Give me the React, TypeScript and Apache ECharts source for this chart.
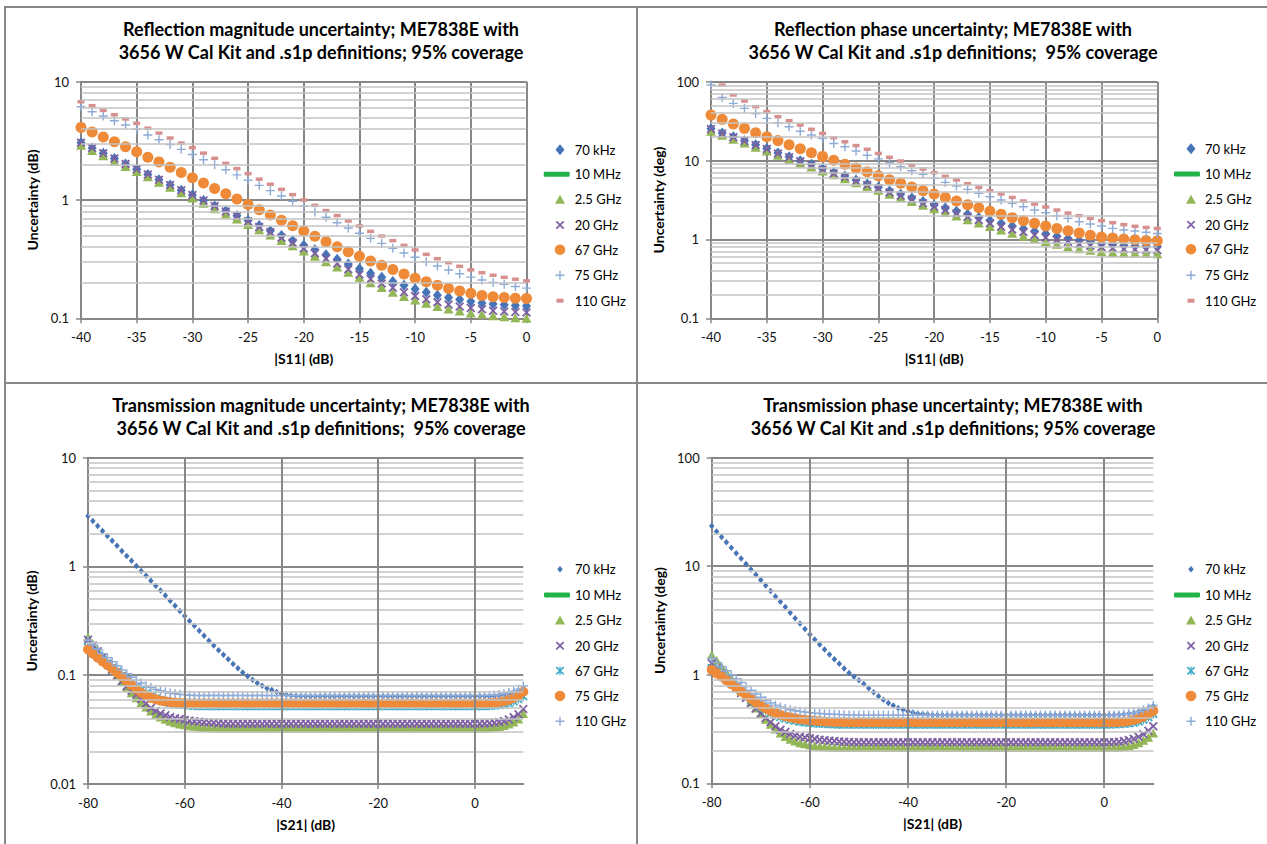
import React, { useEffect, useRef } from "react";
import * as echarts from "echarts";

const FONT = "Lato, 'Open Sans', 'DejaVu Sans', sans-serif";

// ---------- x values ----------
const s11Db = [-40, -39, -38, -37, -36, -35, -34, -33, -32, -31, -30, -29, -28, -27, -26, -25, -24, -23, -22, -21, -20,
  -19, -18, -17, -16, -15, -14, -13, -12, -11, -10, -9, -8, -7, -6, -5, -4, -3, -2, -1, 0];
const s21Db = [-80, -79, -78, -77, -76, -75, -74, -73, -72, -71, -70, -69, -68, -67, -66, -65, -64, -63, -62, -61,
  -60, -59, -58, -57, -56, -55, -54, -53, -52, -51, -50, -49, -48, -47, -46, -45, -44, -43, -42, -41,
  -40, -39, -38, -37, -36, -35, -34, -33, -32, -31, -30, -29, -28, -27, -26, -25, -24, -23, -22, -21,
  -20, -19, -18, -17, -16, -15, -14, -13, -12, -11, -10, -9, -8, -7, -6, -5, -4, -3, -2, -1,
  0, 1, 2, 3, 4, 5, 6, 7, 8, 9, 10];

const seriesNames = ["70 kHz", "10 MHz", "2.5 GHz", "20 GHz", "67 GHz", "75 GHz", "110 GHz"];
const mhz10: number[] = []; // legend-only series (no visible points)

// ---------- Reflection magnitude (dB) ----------
const rm70k = [3.05, 2.75, 2.48, 2.24, 2.02, 1.82, 1.64, 1.48, 1.34, 1.21,
  1.10, 0.99, 0.89, 0.81, 0.735, 0.67, 0.61, 0.55, 0.50, 0.455,
  0.415, 0.38, 0.345, 0.315, 0.288, 0.262, 0.24, 0.222, 0.205, 0.19,
  0.177, 0.166, 0.157, 0.15, 0.144, 0.139, 0.135, 0.132, 0.13, 0.128, 0.127];
const rm2g5 = [2.9, 2.62, 2.37, 2.13, 1.92, 1.74, 1.57, 1.41, 1.28, 1.15,
  1.04, 0.94, 0.845, 0.76, 0.69, 0.62, 0.56, 0.505, 0.455, 0.41,
  0.37, 0.335, 0.30, 0.272, 0.245, 0.222, 0.2, 0.182, 0.166, 0.153,
  0.143, 0.134, 0.126, 0.12, 0.115, 0.111, 0.108, 0.105, 0.103, 0.101, 0.1];
const rm20g = [3.05, 2.75, 2.48, 2.24, 2.02, 1.82, 1.64, 1.48, 1.34, 1.21,
  1.10, 0.99, 0.89, 0.80, 0.73, 0.66, 0.59, 0.535, 0.48, 0.435,
  0.39, 0.355, 0.32, 0.29, 0.26, 0.235, 0.215, 0.197, 0.181, 0.166,
  0.154, 0.145, 0.137, 0.131, 0.126, 0.122, 0.119, 0.116, 0.114, 0.113, 0.112];
const rm67g = [4.11, 3.76, 3.41, 3.11, 2.82, 2.56, 2.30, 2.10, 1.89, 1.71,
  1.54, 1.39, 1.25, 1.13, 1.02, 0.918, 0.828, 0.746, 0.673, 0.606,
  0.547, 0.493, 0.444, 0.403, 0.366, 0.334, 0.305, 0.281, 0.258, 0.237,
  0.218, 0.204, 0.19, 0.179, 0.17, 0.163, 0.156, 0.152, 0.15, 0.148, 0.147];
const rm75g = [6.15, 5.57, 5.12, 4.68, 4.30, 3.96, 3.54, 3.23, 2.95, 2.68,
  2.42, 2.19, 1.99, 1.80, 1.63, 1.47, 1.33, 1.20, 1.08, 0.975,
  0.884, 0.792, 0.714, 0.643, 0.58, 0.523, 0.474, 0.43, 0.391, 0.357,
  0.328, 0.301, 0.277, 0.256, 0.238, 0.223, 0.211, 0.201, 0.194, 0.186, 0.18];
const rm110g = [6.78, 6.27, 5.72, 5.26, 4.84, 4.45, 4.04, 3.68, 3.34, 3.03,
  2.77, 2.49, 2.25, 2.04, 1.84, 1.67, 1.50, 1.36, 1.23, 1.11,
  1.00, 0.902, 0.813, 0.738, 0.665, 0.603, 0.543, 0.496, 0.453, 0.414,
  0.378, 0.347, 0.319, 0.295, 0.275, 0.257, 0.243, 0.231, 0.222, 0.214, 0.207];

// ---------- Reflection phase (deg) ----------
const rp70k = [25.3, 22.4, 20.0, 17.9, 15.9, 14.2, 12.5, 11.2, 9.95, 8.95,
  7.9, 7.05, 6.35, 5.65, 5.05, 4.6, 4.1, 3.73, 3.36, 3.02,
  2.74, 2.5, 2.28, 2.08, 1.9, 1.74, 1.6, 1.48, 1.37, 1.27,
  1.18, 1.1, 1.03, 0.97, 0.93, 0.89, 0.86, 0.84, 0.83, 0.82, 0.81];
const rp2g5 = [23.5, 20.9, 18.6, 16.7, 14.8, 13.2, 11.7, 10.4, 9.3, 8.3,
  7.4, 6.6, 5.9, 5.25, 4.7, 4.2, 3.75, 3.38, 3.03, 2.72,
  2.45, 2.2, 1.98, 1.78, 1.61, 1.46, 1.32, 1.2, 1.1, 1.01,
  0.94, 0.87, 0.81, 0.76, 0.73, 0.7, 0.685, 0.675, 0.668, 0.663, 0.66];
const rp20g = [25.1, 22.1, 19.7, 17.7, 15.7, 14.0, 12.3, 11.0, 9.77, 8.78,
  7.73, 6.88, 6.18, 5.50, 4.90, 4.44, 3.95, 3.59, 3.22, 2.87,
  2.60, 2.36, 2.14, 1.94, 1.76, 1.60, 1.45, 1.34, 1.24, 1.14,
  1.06, 0.99, 0.936, 0.875, 0.834, 0.802, 0.778, 0.755, 0.748, 0.741, 0.734];
const rp67g = [37.7, 33.3, 29.0, 25.6, 22.5, 20.1, 17.9, 15.9, 14.1, 12.6,
  11.3, 10.1, 8.96, 8.04, 7.22, 6.43, 5.72, 5.14, 4.61, 4.15,
  3.76, 3.41, 3.07, 2.76, 2.52, 2.27, 2.08, 1.89, 1.73, 1.60,
  1.48, 1.38, 1.29, 1.21, 1.13, 1.07, 1.04, 1.01, 0.99, 0.97, 0.96];
const rp75g = [90.7, 63.2, 53.1, 45.9, 39.6, 34.3, 30.2, 26.8, 23.6, 21.1,
  19.1, 16.5, 15.0, 13.2, 11.7, 10.5, 9.40, 8.36, 7.44, 6.69,
  5.95, 5.29, 4.75, 4.31, 3.84, 3.48, 3.16, 2.87, 2.60, 2.36,
  2.18, 2.00, 1.85, 1.68, 1.57, 1.48, 1.38, 1.32, 1.28, 1.23, 1.19];
const rp110g = [118, 90.7, 67.8, 56.9, 48.2, 41.7, 36.0, 32.0, 28.2, 24.9,
  22.1, 19.5, 17.3, 15.5, 13.9, 12.3, 11.0, 9.87, 8.78, 7.81,
  7.02, 6.31, 5.67, 5.09, 4.57, 4.15, 3.77, 3.41, 3.07, 2.81,
  2.58, 2.36, 2.16, 2.00, 1.85, 1.73, 1.63, 1.54, 1.47, 1.42, 1.38];

// ---------- Transmission magnitude (dB) ----------
const tm70k = [2.91, 2.62, 2.36, 2.12, 1.91, 1.72, 1.55, 1.39, 1.25, 1.13,
  1.01, 0.91, 0.82, 0.74, 0.665, 0.6, 0.54, 0.485, 0.435, 0.39,
  0.35, 0.315, 0.285, 0.256, 0.231, 0.208, 0.188, 0.17, 0.154, 0.14,
  0.127, 0.116, 0.106, 0.098, 0.091, 0.085, 0.08, 0.076, 0.073, 0.07,
  0.068, 0.066, 0.065, 0.0645, 0.064, 0.064, 0.064, 0.064, 0.064, 0.064,
  0.064, 0.064, 0.064, 0.064, 0.064, 0.064, 0.064, 0.064, 0.064, 0.064,
  0.064, 0.064, 0.064, 0.064, 0.064, 0.064, 0.064, 0.064, 0.064, 0.064,
  0.064, 0.064, 0.064, 0.064, 0.064, 0.064, 0.064, 0.064, 0.064, 0.064,
  0.064, 0.064, 0.064, 0.064, 0.0645, 0.065, 0.066, 0.0675, 0.0695, 0.072,
  0.0755];
const tm2g5 = [0.225, 0.196, 0.172, 0.151, 0.132, 0.115, 0.1, 0.088, 0.078, 0.069,
  0.062, 0.056, 0.051, 0.047, 0.0435, 0.0412, 0.0393, 0.0378, 0.0366, 0.0357,
  0.035, 0.0344, 0.0339, 0.0335, 0.0332, 0.033, 0.0328, 0.0327, 0.0326, 0.0326,
  0.0326, 0.0326, 0.0326, 0.0326, 0.0326, 0.0326, 0.0326, 0.0326, 0.0326, 0.0326,
  0.0326, 0.0326, 0.0326, 0.0326, 0.0326, 0.0326, 0.0326, 0.0326, 0.0326, 0.0326,
  0.0326, 0.0326, 0.0326, 0.0326, 0.0326, 0.0326, 0.0326, 0.0326, 0.0326, 0.0326,
  0.0326, 0.0326, 0.0326, 0.0326, 0.0326, 0.0326, 0.0326, 0.0326, 0.0326, 0.0326,
  0.0326, 0.0326, 0.0326, 0.0326, 0.0326, 0.0326, 0.0326, 0.0326, 0.0326, 0.0326,
  0.0326, 0.0326, 0.0327, 0.0329, 0.0332, 0.0337, 0.0345, 0.0356, 0.0372, 0.0395,
  0.0445];
const tm20g = [0.212, 0.188, 0.166, 0.146, 0.128, 0.112, 0.099, 0.088, 0.079, 0.072,
  0.066, 0.06, 0.055, 0.05, 0.047, 0.0445, 0.0428, 0.0414, 0.0403, 0.0395,
  0.0388, 0.0382, 0.0377, 0.0373, 0.037, 0.0367, 0.0365, 0.0362, 0.036, 0.0358,
  0.0358, 0.0358, 0.0358, 0.0358, 0.0358, 0.0358, 0.0358, 0.0358, 0.0358, 0.0358,
  0.0358, 0.0358, 0.0358, 0.0358, 0.0358, 0.0358, 0.0358, 0.0358, 0.0358, 0.0358,
  0.0358, 0.0358, 0.0358, 0.0358, 0.0358, 0.0358, 0.0358, 0.0358, 0.0358, 0.0358,
  0.0358, 0.0358, 0.0358, 0.0358, 0.0358, 0.0358, 0.0358, 0.0358, 0.0358, 0.0358,
  0.0358, 0.0358, 0.0358, 0.0358, 0.0358, 0.0358, 0.0358, 0.0358, 0.0358, 0.0358,
  0.0358, 0.0359, 0.036, 0.0362, 0.0366, 0.0372, 0.038, 0.0392, 0.041, 0.0438,
  0.049];
const tm67g = [0.18, 0.164, 0.15, 0.138, 0.127, 0.117, 0.108, 0.099, 0.091, 0.084,
  0.078, 0.073, 0.068, 0.064, 0.061, 0.059, 0.057, 0.0555, 0.0545, 0.0538,
  0.0532, 0.0528, 0.0525, 0.0522, 0.052, 0.052, 0.052, 0.052, 0.052, 0.052,
  0.052, 0.052, 0.052, 0.052, 0.052, 0.052, 0.052, 0.052, 0.052, 0.052,
  0.052, 0.052, 0.052, 0.052, 0.052, 0.052, 0.052, 0.052, 0.052, 0.052,
  0.052, 0.052, 0.052, 0.052, 0.052, 0.052, 0.052, 0.052, 0.052, 0.052,
  0.052, 0.052, 0.052, 0.052, 0.052, 0.052, 0.052, 0.052, 0.052, 0.052,
  0.052, 0.052, 0.052, 0.052, 0.052, 0.052, 0.052, 0.052, 0.052, 0.052,
  0.052, 0.052, 0.0521, 0.0523, 0.0527, 0.0533, 0.0543, 0.0557, 0.0577, 0.0605,
  0.064];
const tm75g = [0.173, 0.158, 0.145, 0.134, 0.124, 0.115, 0.106, 0.097, 0.089, 0.081,
  0.074, 0.069, 0.065, 0.062, 0.06, 0.0585, 0.0575, 0.0567, 0.056, 0.0557,
  0.0555, 0.0553, 0.0552, 0.0552, 0.0552, 0.0552, 0.0552, 0.0552, 0.0552, 0.0552,
  0.0552, 0.0552, 0.0552, 0.0552, 0.0552, 0.0552, 0.0552, 0.0552, 0.0552, 0.0552,
  0.0552, 0.0552, 0.0552, 0.0552, 0.0552, 0.0552, 0.0552, 0.0552, 0.0552, 0.0552,
  0.0552, 0.0552, 0.0552, 0.0552, 0.0552, 0.0552, 0.0552, 0.0552, 0.0552, 0.0552,
  0.0552, 0.0552, 0.0552, 0.0552, 0.0552, 0.0552, 0.0552, 0.0552, 0.0552, 0.0552,
  0.0552, 0.0552, 0.0552, 0.0552, 0.0552, 0.0552, 0.0552, 0.0552, 0.0552, 0.0552,
  0.0552, 0.0552, 0.0553, 0.0556, 0.056, 0.0567, 0.0578, 0.0594, 0.0617, 0.065,
  0.0705];
const tm110g = [0.21, 0.19, 0.173, 0.158, 0.145, 0.133, 0.122, 0.112, 0.103, 0.096,
  0.09, 0.085, 0.08, 0.077, 0.074, 0.072, 0.07, 0.0685, 0.0675, 0.0667,
  0.066, 0.0655, 0.0652, 0.065, 0.065, 0.065, 0.065, 0.065, 0.065, 0.065,
  0.065, 0.065, 0.065, 0.065, 0.065, 0.065, 0.065, 0.065, 0.065, 0.065,
  0.065, 0.065, 0.065, 0.065, 0.065, 0.065, 0.065, 0.065, 0.065, 0.065,
  0.065, 0.065, 0.065, 0.065, 0.065, 0.065, 0.065, 0.065, 0.065, 0.065,
  0.065, 0.065, 0.065, 0.065, 0.065, 0.065, 0.065, 0.065, 0.065, 0.065,
  0.065, 0.065, 0.065, 0.065, 0.065, 0.065, 0.065, 0.065, 0.065, 0.065,
  0.065, 0.065, 0.0651, 0.0654, 0.0658, 0.0665, 0.0676, 0.0692, 0.0714, 0.0745,
  0.0795];

// ---------- Transmission phase (deg) ----------
const tp70k = [23.5, 20.9, 18.6, 16.6, 14.8, 13.2, 11.8, 10.5, 9.35, 8.35,
  7.45, 6.65, 5.9, 5.25, 4.7, 4.2, 3.72, 3.32, 2.96, 2.64,
  2.35, 2.11, 1.9, 1.71, 1.54, 1.39, 1.26, 1.14, 1.04, 0.96,
  0.89, 0.82, 0.75, 0.69, 0.635, 0.59, 0.55, 0.52, 0.495, 0.475,
  0.46, 0.448, 0.44, 0.434, 0.43, 0.427, 0.425, 0.425, 0.425, 0.425,
  0.425, 0.425, 0.425, 0.425, 0.425, 0.425, 0.425, 0.425, 0.425, 0.425,
  0.425, 0.425, 0.425, 0.425, 0.425, 0.425, 0.425, 0.425, 0.425, 0.425,
  0.425, 0.425, 0.425, 0.425, 0.425, 0.425, 0.425, 0.425, 0.425, 0.425,
  0.425, 0.425, 0.426, 0.428, 0.432, 0.437, 0.445, 0.457, 0.472, 0.492,
  0.515];
const tp2g5 = [1.53, 1.36, 1.2, 1.06, 0.94, 0.83, 0.73, 0.64, 0.56, 0.495,
  0.44, 0.39, 0.35, 0.317, 0.29, 0.27, 0.255, 0.245, 0.237, 0.231,
  0.226, 0.223, 0.22, 0.218, 0.216, 0.215, 0.214, 0.214, 0.214, 0.214,
  0.214, 0.214, 0.214, 0.214, 0.214, 0.214, 0.214, 0.214, 0.214, 0.214,
  0.214, 0.214, 0.214, 0.214, 0.214, 0.214, 0.214, 0.214, 0.214, 0.214,
  0.214, 0.214, 0.214, 0.214, 0.214, 0.214, 0.214, 0.214, 0.214, 0.214,
  0.214, 0.214, 0.214, 0.214, 0.214, 0.214, 0.214, 0.214, 0.214, 0.214,
  0.214, 0.214, 0.214, 0.214, 0.214, 0.214, 0.214, 0.214, 0.214, 0.214,
  0.214, 0.214, 0.215, 0.216, 0.218, 0.222, 0.228, 0.237, 0.249, 0.266,
  0.29];
const tp20g = [1.28, 1.15, 1.03, 0.93, 0.84, 0.76, 0.68, 0.61, 0.55, 0.49,
  0.44, 0.4, 0.365, 0.335, 0.312, 0.297, 0.285, 0.276, 0.269, 0.264,
  0.26, 0.256, 0.252, 0.249, 0.247, 0.245, 0.243, 0.241, 0.24, 0.239,
  0.239, 0.239, 0.239, 0.239, 0.239, 0.239, 0.239, 0.239, 0.239, 0.239,
  0.239, 0.239, 0.239, 0.239, 0.239, 0.239, 0.239, 0.239, 0.239, 0.239,
  0.239, 0.239, 0.239, 0.239, 0.239, 0.239, 0.239, 0.239, 0.239, 0.239,
  0.239, 0.239, 0.239, 0.239, 0.239, 0.239, 0.239, 0.239, 0.239, 0.239,
  0.239, 0.239, 0.239, 0.239, 0.239, 0.239, 0.239, 0.239, 0.239, 0.239,
  0.239, 0.239, 0.24, 0.242, 0.245, 0.25, 0.257, 0.268, 0.283, 0.305,
  0.335];
const tp67g = [1.15, 1.06, 0.98, 0.9, 0.83, 0.76, 0.7, 0.64, 0.59, 0.545,
  0.505, 0.47, 0.445, 0.425, 0.408, 0.395, 0.385, 0.377, 0.37, 0.365,
  0.361, 0.358, 0.355, 0.353, 0.351, 0.35, 0.349, 0.349, 0.349, 0.349,
  0.349, 0.349, 0.349, 0.349, 0.349, 0.349, 0.349, 0.349, 0.349, 0.349,
  0.349, 0.349, 0.349, 0.349, 0.349, 0.349, 0.349, 0.349, 0.349, 0.349,
  0.349, 0.349, 0.349, 0.349, 0.349, 0.349, 0.349, 0.349, 0.349, 0.349,
  0.349, 0.349, 0.349, 0.349, 0.349, 0.349, 0.349, 0.349, 0.349, 0.349,
  0.349, 0.349, 0.349, 0.349, 0.349, 0.349, 0.349, 0.349, 0.349, 0.349,
  0.349, 0.349, 0.35, 0.351, 0.353, 0.357, 0.363, 0.372, 0.385, 0.405,
  0.435];
const tp75g = [1.11, 1.03, 0.96, 0.89, 0.82, 0.76, 0.7, 0.65, 0.6, 0.555,
  0.52, 0.49, 0.465, 0.445, 0.428, 0.415, 0.405, 0.397, 0.39, 0.385,
  0.38, 0.377, 0.374, 0.372, 0.37, 0.368, 0.367, 0.366, 0.365, 0.365,
  0.365, 0.365, 0.365, 0.365, 0.365, 0.365, 0.365, 0.365, 0.365, 0.365,
  0.365, 0.365, 0.365, 0.365, 0.365, 0.365, 0.365, 0.365, 0.365, 0.365,
  0.365, 0.365, 0.365, 0.365, 0.365, 0.365, 0.365, 0.365, 0.365, 0.365,
  0.365, 0.365, 0.365, 0.365, 0.365, 0.365, 0.365, 0.365, 0.365, 0.365,
  0.365, 0.365, 0.365, 0.365, 0.365, 0.365, 0.365, 0.365, 0.365, 0.365,
  0.365, 0.365, 0.366, 0.367, 0.37, 0.375, 0.383, 0.395, 0.41, 0.435,
  0.465];
const tp110g = [1.42, 1.3, 1.19, 1.09, 1.0, 0.92, 0.85, 0.78, 0.72, 0.665,
  0.62, 0.58, 0.55, 0.525, 0.505, 0.49, 0.477, 0.467, 0.46, 0.453,
  0.448, 0.443, 0.44, 0.437, 0.434, 0.432, 0.43, 0.428, 0.427, 0.426,
  0.425, 0.425, 0.425, 0.425, 0.425, 0.425, 0.425, 0.425, 0.425, 0.425,
  0.425, 0.425, 0.425, 0.425, 0.425, 0.425, 0.425, 0.425, 0.425, 0.425,
  0.425, 0.425, 0.425, 0.425, 0.425, 0.425, 0.425, 0.425, 0.425, 0.425,
  0.425, 0.425, 0.425, 0.425, 0.425, 0.425, 0.425, 0.425, 0.425, 0.425,
  0.425, 0.425, 0.425, 0.425, 0.425, 0.425, 0.425, 0.425, 0.425, 0.425,
  0.425, 0.425, 0.426, 0.428, 0.432, 0.438, 0.447, 0.46, 0.475, 0.495,
  0.52];

// ---------- gridline values ----------
const minor01to10 = [0.2, 0.3, 0.4, 0.5, 0.6, 0.7, 0.8, 0.9, 2, 3, 4, 5, 6, 7, 8, 9];
const minor01to100 = [0.2, 0.3, 0.4, 0.5, 0.6, 0.7, 0.8, 0.9, 2, 3, 4, 5, 6, 7, 8, 9, 20, 30, 40, 50, 60, 70, 80, 90];
const minor001to10 = [0.02, 0.03, 0.04, 0.05, 0.06, 0.07, 0.08, 0.09, 0.2, 0.3, 0.4, 0.5, 0.6, 0.7, 0.8, 0.9, 2, 3, 4, 5, 6, 7, 8, 9];
const s21Major = [-80, -60, -40, -20, 0];
const s21VLines = [-60, -40, -20, 0];

// ---------- styles ----------
const AXIS = "#878787";
const MINOR = "#C3C3C3";
const C_BLUE = "#4674B6";
const C_GREEN_LINE = "#22B24A";
const C_OLIVE = "#93B656";
const C_PURPLE = "#7D5FA3";
const C_ORANGE = "#EE8A38";
const C_LBLUE = "#8FACD7";
const C_PINK = "#D8908E";
const C_TEAL = "#3FAAC6";

const X_PATH = "path://M0,1.4L1.4,0L5,3.6L8.6,0L10,1.4L6.4,5L10,8.6L8.6,10L5,6.4L1.4,10L0,8.6L3.6,5Z";
const PLUS_PATH = "path://M4.2,0H5.8V4.2H10V5.8H5.8V10H4.2V5.8H0V4.2H4.2Z";
const STAR_PATH = "path://M0,1.4L1.4,0L5,3.6L8.6,0L10,1.4L6.4,5L10,8.6L8.6,10L5,6.4L1.4,10L0,8.6L3.6,5ZM4.3,0H5.7V10H4.3Z";

type Item = {
  name: string;
  data: number[];
  line?: boolean;
  symbol?: string;
  size?: number | number[];
  color: string;
  leg: [number, number];
};

type Spec = {
  title: string;
  xName: string;
  yName: string;
  x: number[];
  xMin: number;
  xMax: number;
  xInterval: number;
  xCustom?: number[];
  vLines?: number[];
  yMin: number;
  yMax: number;
  minor: number[];
  grid: { left: number; top: number; width: number; height: number };
  yNameGap: number;
  legendMarkerX: number;
  legendTextX: number;
  legendY: number[];
  items: Item[];
};

const topItems = (d: number[][]): Item[] => [
  { name: seriesNames[0], data: d[0], symbol: "diamond", size: [9, 11], color: C_BLUE, leg: [9, 11] },
  { name: seriesNames[1], data: mhz10, line: true, color: C_GREEN_LINE, leg: [26, 5] },
  { name: seriesNames[2], data: d[1], symbol: "triangle", size: [10, 9], color: C_OLIVE, leg: [10, 9] },
  { name: seriesNames[3], data: d[2], symbol: X_PATH, size: 9, color: C_PURPLE, leg: [8.5, 8.5] },
  { name: seriesNames[4], data: d[3], symbol: "circle", size: 11, color: C_ORANGE, leg: [10.5, 10.5] },
  { name: seriesNames[5], data: d[4], symbol: PLUS_PATH, size: 9, color: C_LBLUE, leg: [9, 9] },
  { name: seriesNames[6], data: d[5], symbol: "rect", size: [7, 3.5], color: C_PINK, leg: [7, 4] },
];

const bottomItems = (d: number[][]): Item[] => [
  { name: seriesNames[0], data: d[0], symbol: "diamond", size: [5.5, 6.5], color: C_BLUE, leg: [5.5, 6.5] },
  { name: seriesNames[1], data: mhz10, line: true, color: C_GREEN_LINE, leg: [26, 5] },
  { name: seriesNames[2], data: d[1], symbol: "triangle", size: [9.5, 9], color: C_OLIVE, leg: [10, 9] },
  { name: seriesNames[3], data: d[2], symbol: X_PATH, size: 9, color: C_PURPLE, leg: [8.5, 8.5] },
  { name: seriesNames[4], data: d[3], symbol: STAR_PATH, size: 9, color: C_TEAL, leg: [8.5, 8.5] },
  { name: seriesNames[5], data: d[4], symbol: "circle", size: 10, color: C_ORANGE, leg: [10.5, 10.5] },
  { name: seriesNames[6], data: d[5], symbol: PLUS_PATH, size: 9, color: C_LBLUE, leg: [9, 9] },
];

const specs: Spec[] = [
  {
    title: "Reflection magnitude uncertainty; ME7838E with\n3656 W Cal Kit and .s1p definitions; 95% coverage",
    xName: "|S11| (dB)", yName: "Uncertainty (dB)", x: s11Db, xMin: -40, xMax: 0, xInterval: 5,
    yMin: 0.1, yMax: 10, minor: minor01to10,
    grid: { left: 75, top: 73.7, width: 445.5, height: 236.6 }, yNameGap: 42,
    legendMarkerX: 554, legendTextX: 568.7, legendY: [141.7, 166.3, 191.3, 217, 241.7, 267.3, 292.7],
    items: topItems([rm70k, rm2g5, rm20g, rm67g, rm75g, rm110g]),
  },
  {
    title: "Reflection phase uncertainty; ME7838E with\n3656 W Cal Kit and .s1p definitions;  95% coverage",
    xName: "|S11| (dB)", yName: "Uncertainty (deg)", x: s11Db, xMin: -40, xMax: 0, xInterval: 5,
    yMin: 0.1, yMax: 100, minor: minor01to100,
    grid: { left: 73, top: 73.7, width: 446.3, height: 236.6 }, yNameGap: 42,
    legendMarkerX: 553, legendTextX: 567, legendY: [140.7, 166, 191.3, 216.7, 241.3, 267.3, 292.7],
    items: topItems([rp70k, rp2g5, rp20g, rp67g, rp75g, rp110g]),
  },
  {
    title: "Transmission magnitude uncertainty; ME7838E with\n3656 W Cal Kit and .s1p definitions;  95% coverage",
    xName: "|S21| (dB)", yName: "Uncertainty (dB)", x: s21Db, xMin: -80, xMax: 10, xInterval: 20,
    xCustom: s21Major, vLines: s21VLines,
    yMin: 0.01, yMax: 10, minor: minor001to10,
    grid: { left: 82, top: 73.7, width: 435.3, height: 326.3 }, yNameGap: 49.5,
    legendMarkerX: 554, legendTextX: 569, legendY: [185.3, 211, 236, 261.7, 286.7, 312, 337.3],
    items: bottomItems([tm70k, tm2g5, tm20g, tm67g, tm75g, tm110g]),
  },
  {
    title: "Transmission phase uncertainty; ME7838E with\n3656 W Cal Kit and .s1p definitions; 95% coverage",
    xName: "|S21| (dB)", yName: "Uncertainty (deg)", x: s21Db, xMin: -80, xMax: 10, xInterval: 20,
    xCustom: s21Major, vLines: s21VLines,
    yMin: 0.1, yMax: 100, minor: minor01to100,
    grid: { left: 73.7, top: 73.7, width: 441.6, height: 325.6 }, yNameGap: 42.5,
    legendMarkerX: 553, legendTextX: 567, legendY: [185.3, 211, 236, 261.7, 286.7, 312, 337.3],
    items: bottomItems([tp70k, tp2g5, tp20g, tp67g, tp75g, tp110g]),
  },
];

function buildOption(p: Spec): any {
  const series: any[] = [];
  series.push({
    name: "minor-grid", type: "line", data: [], silent: true, z: 1, symbol: "none",
    markLine: {
      silent: true, symbol: ["none", "none"], animation: false, label: { show: false },
      emphasis: { disabled: true },
      lineStyle: { color: MINOR, width: 1.5, type: "solid" },
      data: p.minor.map((v) => ({ yAxis: v })),
    },
  });
  if (p.vLines) {
    series.push({
      name: "v-grid", type: "line", data: [], silent: true, z: 1, symbol: "none",
      markLine: {
        silent: true, symbol: ["none", "none"], animation: false, label: { show: false },
        emphasis: { disabled: true },
        lineStyle: { color: AXIS, width: 2, type: "solid" },
        data: p.vLines.map((v) => ({ xAxis: v })),
      },
    });
  }
  p.items.forEach((it) => {
    if (it.line) {
      series.push({
        name: it.name, type: "line", data: it.data.map((v, i) => [p.x[i], v]), color: it.color,
        symbol: "none", lineStyle: { color: it.color, width: 5, cap: "round" }, z: 3,
      });
    } else {
      series.push({
        name: it.name, type: "scatter", data: it.data.map((v, i) => [p.x[i], v]),
        symbol: it.symbol, symbolSize: it.size, color: it.color,
        itemStyle: { color: it.color, opacity: 1 }, z: 3, silent: true, clip: true,
      });
    }
  });

  const legend = p.items.map((it, i) => {
    const [w, h] = it.leg;
    let left = p.legendMarkerX - w / 2;
    let pad = p.legendTextX - (p.legendMarkerX + w / 2 + 5);
    if (it.line) {
      left = p.legendTextX - 5 - w;
      pad = 0;
    }
    return {
      data: [it.line ? { name: it.name, icon: "roundRect" } : { name: it.name }],
      left, top: p.legendY[i] - 8, itemWidth: w, itemHeight: h, padding: 0, itemGap: 0,
      selectedMode: false, orient: "vertical",
      textStyle: { fontFamily: FONT, fontSize: 13, color: "#000", lineHeight: 16, padding: [0, 0, 0, Math.max(0, pad)] },
    };
  });

  const fmt = (v: number) => String(parseFloat(Number(v).toPrecision(6)));

  return {
    animation: false,
    backgroundColor: "#fff",
    title: {
      text: p.title, left: "center", top: 9, padding: 0,
      textStyle: { fontFamily: FONT, fontSize: 18, fontWeight: "bold", color: "#000", lineHeight: 23.5 },
    },
    grid: { ...p.grid, containLabel: false },
    legend,
    xAxis: {
      type: "value", min: p.xMin, max: p.xMax, interval: p.xInterval,
      name: p.xName, nameLocation: "middle", nameGap: 33,
      nameTextStyle: { fontFamily: FONT, fontSize: 14, fontWeight: "bold", color: "#000" },
      axisLine: { onZero: false, lineStyle: { color: AXIS, width: 2 } },
      axisTick: p.xCustom
        ? { show: true, length: 5, customValues: p.xCustom, lineStyle: { color: AXIS, width: 1.5 } }
        : { show: true, length: 5, lineStyle: { color: AXIS, width: 1.5 } },
      axisLabel: p.xCustom
        ? { fontFamily: FONT, fontSize: 13, color: "#111", margin: 12, customValues: p.xCustom, formatter: fmt }
        : { fontFamily: FONT, fontSize: 13, color: "#111", margin: 12, formatter: fmt },
      splitLine: { show: !p.xCustom, lineStyle: { color: AXIS, width: 2 } },
    },
    yAxis: {
      type: "log", logBase: 10, min: p.yMin, max: p.yMax,
      name: p.yName, nameLocation: "middle", nameGap: p.yNameGap,
      nameTextStyle: { fontFamily: FONT, fontSize: 14, fontWeight: "bold", color: "#000" },
      axisLine: { show: true, onZero: false, lineStyle: { color: AXIS, width: 2 } },
      axisTick: { show: true, length: 5, lineStyle: { color: AXIS, width: 1.5 } },
      axisLabel: { fontFamily: FONT, fontSize: 13, color: "#111", margin: 12, formatter: fmt },
      splitLine: { show: true, lineStyle: { color: AXIS, width: 2 } },
      minorTick: { show: false },
      minorSplitLine: { show: false },
    },
    series,
  };
}

const boxes = [
  { left: 4, top: 6, width: 634, height: 378 },
  { left: 636, top: 6, width: 640, height: 378 },
  { left: 4, top: 382, width: 634, height: 470 },
  { left: 636, top: 382, width: 640, height: 470 },
];

function Panel({ spec, box }: { spec: Spec; box: { left: number; top: number; width: number; height: number } }) {
  const ref = useRef<HTMLDivElement>(null);
  useEffect(() => {
    if (!ref.current) return;
    const chart = echarts.init(ref.current, undefined, { renderer: "svg" });
    chart.setOption(buildOption(spec));
    return () => chart.dispose();
  }, [spec]);
  return (
    <div
      style={{
        position: "absolute", left: box.left, top: box.top, width: box.width, height: box.height,
        border: `2px solid ${AXIS}`, boxSizing: "border-box", background: "#fff",
      }}
    >
      <div ref={ref} style={{ position: "absolute", left: 0, top: 0, width: 630, height: box.height - 4 }} />
    </div>
  );
}

export default function App() {
  return (
    <div style={{ position: "fixed", left: 0, top: 0, width: 1267, height: 844, overflow: "hidden", background: "#fff" }}>
      {specs.map((s, i) => (
        <Panel key={i} spec={s} box={boxes[i]} />
      ))}
    </div>
  );
}
